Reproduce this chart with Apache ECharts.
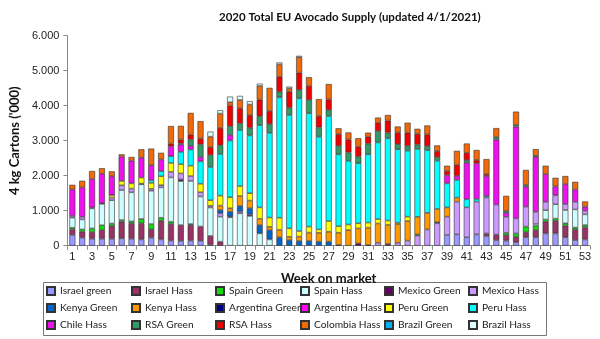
<!DOCTYPE html>
<html><head><meta charset="utf-8">
<script src="https://cdn.jsdelivr.net/npm/echarts@6/dist/echarts.min.js"></script>
<style>html,body{margin:0;padding:0;background:#fff}#c{width:600px;height:339px}</style>
</head><body><div id="c"></div>
<script>
const weeks = Array.from({length:53},(_,i)=>String(i+1));
const yTicks = [0,1000,2000,3000,4000,5000,6000];
const names = ['Israel green','Israel Hass','Spain Green','Spain Hass','Mexico Green','Mexico Hass',
 'Kenya Green','Kenya Hass','Argentina Green','Argentina Hass','Peru Green','Peru Hass',
 'Chile Hass','RSA Green','RSA Hass','Colombia Hass','Brazil Green','Brazil Hass'];
const colors = ['#9999FF','#993366','#11DD11','#CCFFFF','#660066','#CC99FF',
 '#0066CC','#FF9900','#000080','#FF00FF','#FFFF00','#00FFFF',
 '#EE11EE','#339966','#EE0000','#F06A0A','#00B0F0','#DDFFFF'];

const israelGreen = [305,230,200,200,200,210,200,180,230,180, 145,135,145,140,30,0,0,0,0,0, 0,0,0,0,0,0,0,0,0,0, 0,0,0,0,0,0,0,0,305,325, 240,325,275,160,145,95,240,240,350,350, 240,160,180];
const israelHass = [160,170,190,250,370,475,440,460,240,535, 475,455,445,410,250,115,0,0,0,0, 0,0,0,0,0,0,0,0,0,0, 0,0,0,0,0,0,0,0,0,0, 0,0,75,160,160,160,145,210,335,360, 335,305,345];
const spainGreen = [50,65,105,135,65,50,55,125,150,85, 65,0,30,0,0,0,0,0,0,0, 0,0,0,0,0,0,0,0,0,0, 0,0,0,0,0,0,0,0,0,0, 0,0,0,0,65,95,160,115,65,65, 65,55,65];
const spainHass = [285,285,570,610,665,855,830,990,950,865, 1265,1255,1230,855,810,715,810,925,850,350, 180,0,0,0,0,0,0,0,0,0, 0,0,0,0,0,0,0,0,0,0, 0,0,0,0,0,0,0,55,265,410, 380,515,305];
const mexicoGreen = [0,0,0,20,0,0,0,0,0,0, 0,50,0,0,0,0,30,0,40,0, 0,0,0,0,0,0,0,20,0,65, 20,0,50,0,0,0,0,0,0,0, 0,0,0,0,0,0,0,0,0,0, 0,0,0];
const mexicoHass = [50,75,30,0,75,135,105,0,55,65, 160,170,140,125,50,95,0,50,0,0, 0,0,0,0,0,0,0,0,0,0, 0,85,0,85,145,290,465,640,525,935, 855,935,1030,855,455,430,570,350,240,255, 170,220,105];
const kenyaGreen = [0,0,0,0,0,0,0,0,0,0, 0,0,0,0,0,95,135,160,180,240, 265,240,160,135,135,115,115,0,0,0, 0,0,0,0,0,30,0,30,0,0, 0,0,0,0,0,0,0,0,0,0, 0,0,0];
const kenyaHass = [0,0,0,0,0,0,0,0,0,0, 0,0,0,0,0,125,95,285,220,180, 95,210,95,125,240,255,285,350,445,430, 495,550,545,535,560,505,475,380,265,115, 0,0,0,0,0,0,0,0,0,0, 0,0,0];
const argentinaGreen = [0,0,0,0,0,0,0,20,0,0, 0,0,0,0,0,0,0,0,0,0, 0,0,0,0,0,0,0,0,0,0, 0,0,0,0,0,0,0,0,0,0, 0,0,0,0,0,0,0,0,0,0, 0,0,0];
const argentinaHass = [0,0,0,0,0,0,0,0,0,0, 0,0,0,0,0,0,0,0,0,0, 0,0,0,0,0,0,0,0,0,0, 0,0,0,0,0,0,0,0,0,0, 0,0,0,0,0,0,0,0,0,0, 0,0,0];
const peruGreen = [0,0,0,0,65,125,150,170,170,255, 255,265,295,240,160,285,315,285,210,325, 265,350,240,160,170,95,305,190,160,145, 145,125,125,40,125,0,0,0,0,0, 0,0,0,0,0,0,0,0,0,0, 0,0,0];
const peruHass = [0,0,0,0,0,0,0,0,75,145, 190,350,465,640,950,1190,1620,1600,1650,2350, 2420,3440,3240,3790,3240,2650,3000,2050,1820,1715, 1950,2190,2350,2095,1885,1940,1790,1380,685,505, 230,75,40,0,0,0,0,0,0,0, 0,0,0];
const chileHass = [760,840,810,840,545,695,650,570,430,335, 285,210,105,125,0,0,160,0,0,0, 0,0,0,0,0,0,0,0,0,0, 0,0,0,0,0,0,0,0,240,115, 1045,1020,570,1855,115,2620,570,1570,790,255, 570,350,115];
const rsaGreen = [0,0,0,0,0,0,0,0,0,0, 0,30,180,360,340,250,250,190,220,255, 250,160,210,240,380,265,170,240,240,190, 305,325,160,145,135,125,115,100,0,0, 75,0,0,75,55,50,50,30,0,0, 0,0,0];
const rsaHass = [0,0,0,0,0,0,0,0,0,0, 75,115,140,170,230,495,590,430,360,475, 370,430,455,495,400,325,305,335,370,285, 200,240,345,335,380,305,335,175,115,315, 210,95,55,0,0,0,0,0,0,0, 0,0,0];
const colombiaHass = [130,190,230,160,140,65,105,240,475,190, 505,390,620,495,295,410,95,240,305,390, 665,350,95,440,250,485,440,170,200,240, 115,145,160,170,285,145,255,160,150,400, 265,285,430,255,430,380,430,190,240,245, 230,220,150];
const brazilGreen = [0,0,0,0,0,0,0,0,0,0, 0,0,0,0,0,0,0,0,0,0, 0,0,0,0,0,0,0,0,0,0, 0,0,0,0,0,0,0,0,0,0, 0,0,0,0,0,0,0,0,0,0, 0,0,0];
const brazilHass = [0,0,0,0,0,0,0,0,0,0, 0,0,0,0,145,95,160,115,95,65, 0,55,50,40,0,0,0,0,0,0, 0,0,0,0,0,0,0,0,0,0, 0,0,0,0,0,0,0,0,0,0, 0,0,0];

const values = [israelGreen,israelHass,spainGreen,spainHass,mexicoGreen,mexicoHass,
 kenyaGreen,kenyaHass,argentinaGreen,argentinaHass,peruGreen,peruHass,
 chileHass,rsaGreen,rsaHass,colombiaHass,brazilGreen,brazilHass];

const series = names.map((n,i)=>({
  name:n, type:'bar', stack:'total', barWidth:6,
  data: values[i].map(v=>v===0?'-':v),
  itemStyle:{color:colors[i], borderColor:'#333', borderWidth:0.6},
  emphasis:{disabled:true}, animation:false
}));

const colX = [46,131,215,300,384,468];
const legends = colX.map((x,c)=>({
  orient:'vertical', left:x, top:285, height:60, padding:0, itemGap:5,
  itemWidth:8, itemHeight:8, icon:'rect',
  data:[names[c],names[c+6],names[c+12]],
  textStyle:{fontFamily:'Lato',fontSize:10.2,lineHeight:12,color:'#222'},
  selectedMode:false
}));

const chart = echarts.init(document.getElementById('c'),null,{renderer:'canvas'});
chart.setOption({
  animation:false,
  title:{text:'2020 Total EU Avocado Supply (updated 4/1/2021)', left:219, top:11, padding:0,
    textStyle:{fontFamily:'Lato',fontWeight:'bold',fontSize:11.5,color:'#111'}},
  legend:legends,
  grid:{left:60,right:10,top:35.7,bottom:93.3,containLabel:false},
  xAxis:{type:'category',data:weeks,boundaryGap:true,
    name:'Week on market',nameLocation:'middle',nameGap:27,
    nameTextStyle:{fontFamily:'Lato',fontWeight:'bold',fontSize:13,color:'#111'},
    axisLine:{lineStyle:{color:'#888'}},
    axisTick:{show:true,interval:0,length:4,lineStyle:{color:'#888'}},
    axisLabel:{interval:1,fontFamily:'Liberation Sans',fontSize:11,color:'#222',margin:6}},
  yAxis:{type:'value',min:0,max:6000,interval:1000,
    name:"4 kg Cartons ('000)",nameLocation:'middle',nameGap:40,nameRotate:90,
    nameTextStyle:{fontFamily:'Lato',fontWeight:'bold',fontSize:13,color:'#111'},
    axisLine:{show:true,lineStyle:{color:'#888'}},
    axisTick:{show:true,length:4,lineStyle:{color:'#888'}},
    splitLine:{show:false},
    axisLabel:{fontFamily:'Liberation Sans',fontSize:11,color:'#222',margin:8,
      formatter:v=>v===0?'0':(v/1000)+'.000'}},
  graphic:[{type:'rect',shape:{x:43.5,y:282.5,width:503,height:53},
    style:{fill:'none',stroke:'#777',lineWidth:1},silent:true}],
  series:series
});
</script></body></html>
